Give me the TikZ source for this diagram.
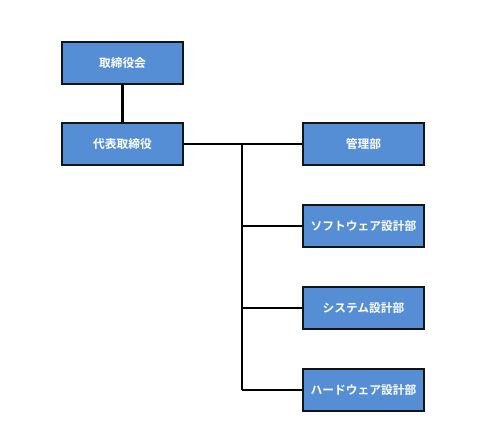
\documentclass[tikz,border=0pt]{standalone}
\usepackage{fontspec}
\newfontfamily\cjk{Noto Sans CJK JP}[BoldFont={Noto Sans CJK JP Bold}]
\definecolor{boxblue}{RGB}{85,142,213}
\definecolor{edge}{RGB}{20,20,20}
\tikzset{
  org/.style={draw=edge, line width=2pt*0.75, fill=boxblue, text=white,
    minimum width=121*0.75pt, minimum height=42*0.75pt, inner sep=0pt,
    font=\cjk\bfseries\fontsize{8.8}{10}\selectfont, anchor=north west},
  link/.style={draw=black, line width=2.6pt*0.75}
}
\begin{document}
\begin{tikzpicture}[x=0.75pt,y=-0.75pt]
\useasboundingbox (0,0) rectangle (500,447);
\node[org] (board) at (61,41) {取締役会};
\node[org] (ceo) at (61,122) {代表取締役};
\node[org] (admin) at (302,122) {管理部};
\node[org] (soft) at (302,204) {ソフトウェア設計部};
\node[org] (sys) at (302,286) {システム設計部};
\node[org] (hard) at (302,368) {ハードウェア設計部};
\coordinate (trunkx) at (242,0);
\draw[link] (board.south) -- (ceo.north);
\draw[link] (ceo.east) -- (admin.west);
\draw[link] (ceo.east -| trunkx) -- (hard.west -| trunkx);
\draw[link] (soft.west) -- (soft.west -| trunkx);
\draw[link] (sys.west) -- (sys.west -| trunkx);
\draw[link] (hard.west) -- (hard.west -| trunkx);
\end{tikzpicture}
\end{document}
